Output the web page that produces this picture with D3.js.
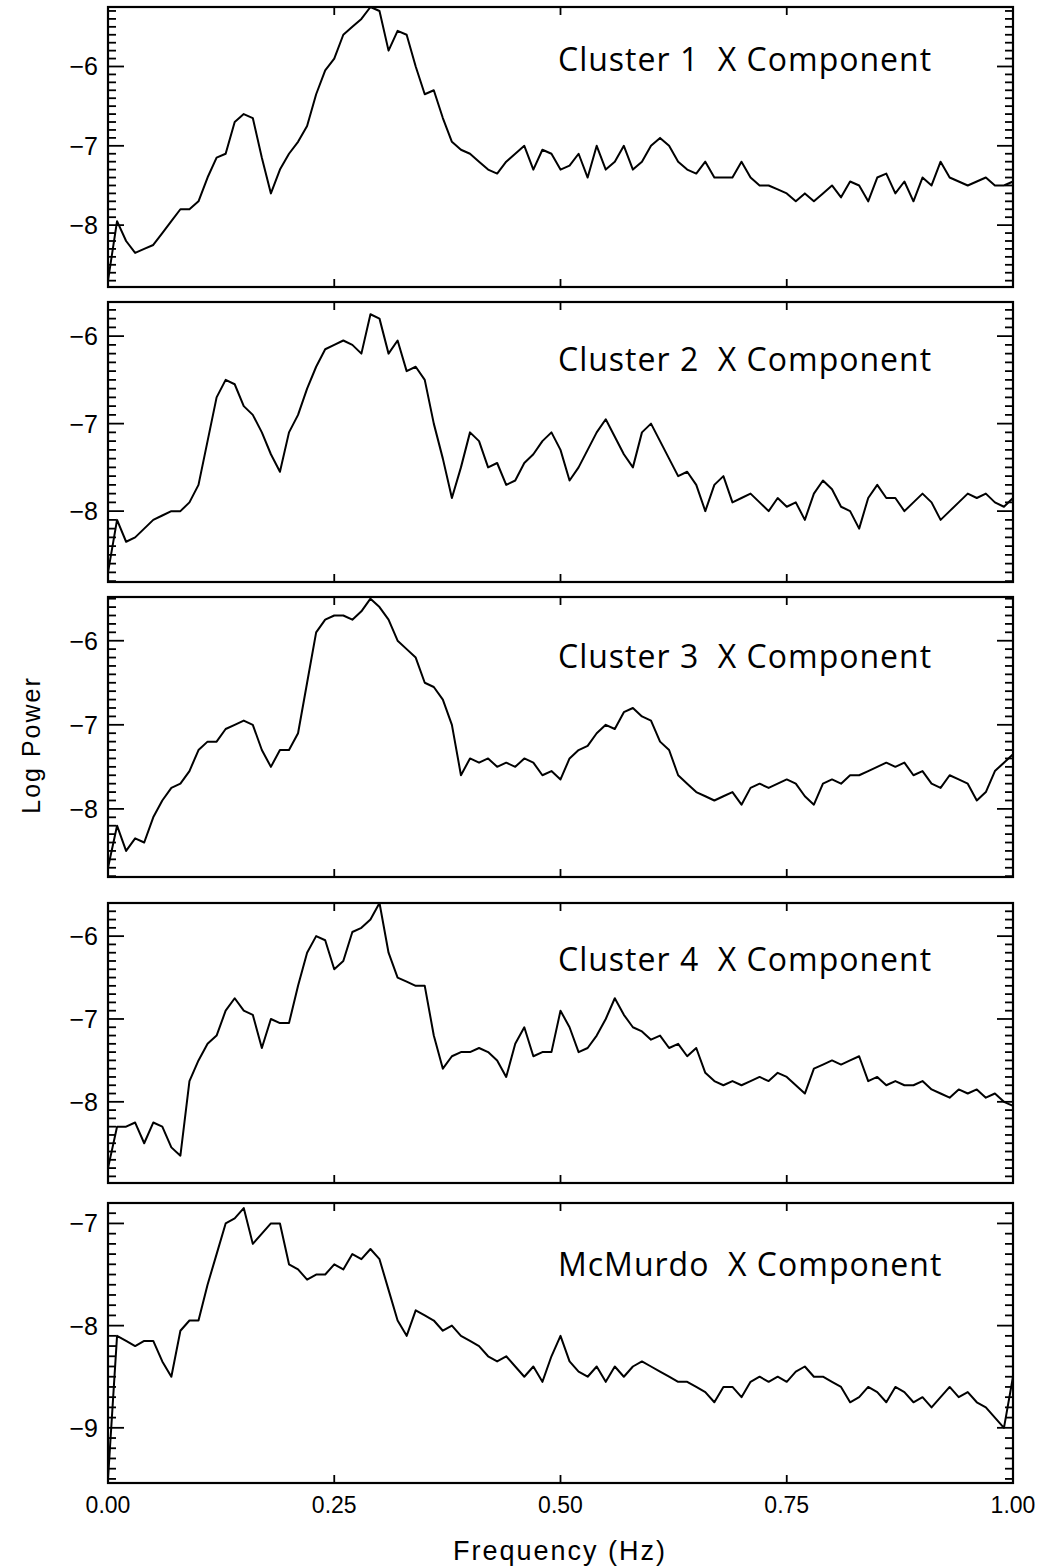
<!DOCTYPE html>
<html>
<head>
<meta charset="utf-8">
<script src="https://cdn.jsdelivr.net/npm/d3@7"></script>
<style>
body { margin: 0; background: #fff; }
text { white-space: pre; }
</style>
</head>
<body>
<svg id="chart" width="1042" height="1568"></svg>
<script>
// frequency grid (Hz), shared by all panels
var freq = d3.range(0, 101).map(function (i) { return i / 100; });

var titles = ["Cluster 1  X Component", "Cluster 2  X Component", "Cluster 3  X Component",
    "Cluster 4  X Component", "McMurdo  X Component"];

var xTicks = [0, 0.25, 0.5, 0.75, 1];
var xTickLabels = ["0.00", "0.25", "0.50", "0.75", "1.00"];

var cluster1 = [-8.7, -7.95, -8.2, -8.35, -8.3, -8.25, -8.1, -7.95, -7.8, -7.8,
    -7.7, -7.4, -7.15, -7.1, -6.7, -6.6, -6.65, -7.15, -7.6, -7.3,
    -7.1, -6.95, -6.75, -6.35, -6.05, -5.9, -5.6, -5.5, -5.4, -5.25,
    -5.3, -5.8, -5.55, -5.6, -6.0, -6.35, -6.3, -6.65, -6.95, -7.05,
    -7.1, -7.2, -7.3, -7.35, -7.2, -7.1, -7.0, -7.3, -7.05, -7.1,
    -7.3, -7.25, -7.1, -7.4, -7.0, -7.3, -7.2, -7.0, -7.3, -7.2,
    -7.0, -6.9, -7.0, -7.2, -7.3, -7.35, -7.2, -7.4, -7.4, -7.4,
    -7.2, -7.4, -7.5, -7.5, -7.55, -7.6, -7.7, -7.6, -7.7, -7.6,
    -7.5, -7.65, -7.45, -7.5, -7.7, -7.4, -7.35, -7.6, -7.45, -7.7,
    -7.4, -7.5, -7.2, -7.4, -7.45, -7.5, -7.45, -7.4, -7.5, -7.5, -7.45];

var cluster2 = [-8.7, -8.1, -8.35, -8.3, -8.2, -8.1, -8.05, -8.0, -8.0, -7.9,
    -7.7, -7.2, -6.7, -6.5, -6.55, -6.8, -6.9, -7.1, -7.35, -7.55,
    -7.1, -6.9, -6.6, -6.35, -6.15, -6.1, -6.05, -6.1, -6.2, -5.75,
    -5.8, -6.2, -6.05, -6.4, -6.35, -6.5, -7.0, -7.4, -7.85, -7.5,
    -7.1, -7.2, -7.5, -7.45, -7.7, -7.65, -7.45, -7.35, -7.2, -7.1,
    -7.3, -7.65, -7.5, -7.3, -7.1, -6.95, -7.15, -7.35, -7.5, -7.1,
    -7.0, -7.2, -7.4, -7.6, -7.55, -7.7, -8.0, -7.7, -7.6, -7.9,
    -7.85, -7.8, -7.9, -8.0, -7.85, -7.95, -7.9, -8.1, -7.8, -7.65,
    -7.75, -7.95, -8.0, -8.2, -7.85, -7.7, -7.85, -7.85, -8.0, -7.9,
    -7.8, -7.9, -8.1, -8.0, -7.9, -7.8, -7.85, -7.8, -7.9, -7.95, -7.85];

var cluster3 = [-8.7, -8.2, -8.5, -8.35, -8.4, -8.1, -7.9, -7.75, -7.7, -7.55,
    -7.3, -7.2, -7.2, -7.05, -7.0, -6.95, -7.0, -7.3, -7.5, -7.3,
    -7.3, -7.1, -6.5, -5.9, -5.75, -5.7, -5.7, -5.75, -5.65, -5.5,
    -5.6, -5.75, -6.0, -6.1, -6.2, -6.5, -6.55, -6.7, -7.0, -7.6,
    -7.4, -7.45, -7.4, -7.5, -7.45, -7.5, -7.4, -7.45, -7.6, -7.55,
    -7.65, -7.4, -7.3, -7.25, -7.1, -7.0, -7.05, -6.85, -6.8, -6.9,
    -6.95, -7.2, -7.3, -7.6, -7.7, -7.8, -7.85, -7.9, -7.85, -7.8,
    -7.95, -7.75, -7.7, -7.75, -7.7, -7.65, -7.7, -7.85, -7.95, -7.7,
    -7.65, -7.7, -7.6, -7.6, -7.55, -7.5, -7.45, -7.5, -7.45, -7.6,
    -7.55, -7.7, -7.75, -7.6, -7.65, -7.7, -7.9, -7.8, -7.55, -7.45, -7.35];

var cluster4 = [-8.8, -8.3, -8.3, -8.25, -8.5, -8.25, -8.3, -8.55, -8.65, -7.75,
    -7.5, -7.3, -7.2, -6.9, -6.75, -6.9, -6.95, -7.35, -7.0, -7.05,
    -7.05, -6.6, -6.2, -6.0, -6.05, -6.4, -6.3, -5.95, -5.9, -5.8,
    -5.6, -6.2, -6.5, -6.55, -6.6, -6.6, -7.2, -7.6, -7.45, -7.4,
    -7.4, -7.35, -7.4, -7.5, -7.7, -7.3, -7.1, -7.45, -7.4, -7.4,
    -6.9, -7.1, -7.4, -7.35, -7.2, -7.0, -6.75, -6.95, -7.1, -7.15,
    -7.25, -7.2, -7.35, -7.3, -7.45, -7.35, -7.65, -7.75, -7.8, -7.75,
    -7.8, -7.75, -7.7, -7.75, -7.65, -7.7, -7.8, -7.9, -7.6, -7.55,
    -7.5, -7.55, -7.5, -7.45, -7.75, -7.7, -7.8, -7.75, -7.8, -7.8,
    -7.75, -7.85, -7.9, -7.95, -7.85, -7.9, -7.85, -7.95, -7.9, -8.0, -8.05];

var mcmurdo = [-9.5, -8.1, -8.15, -8.2, -8.15, -8.15, -8.35, -8.5, -8.05, -7.95,
    -7.95, -7.6, -7.3, -7.0, -6.95, -6.85, -7.2, -7.1, -7.0, -7.0,
    -7.4, -7.45, -7.55, -7.5, -7.5, -7.4, -7.45, -7.3, -7.35, -7.25,
    -7.35, -7.65, -7.95, -8.1, -7.85, -7.9, -7.95, -8.05, -8.0, -8.1,
    -8.15, -8.2, -8.3, -8.35, -8.3, -8.4, -8.5, -8.4, -8.55, -8.3,
    -8.1, -8.35, -8.45, -8.5, -8.4, -8.55, -8.4, -8.5, -8.4, -8.35,
    -8.4, -8.45, -8.5, -8.55, -8.55, -8.6, -8.65, -8.75, -8.6, -8.6,
    -8.7, -8.55, -8.5, -8.55, -8.5, -8.55, -8.45, -8.4, -8.5, -8.5,
    -8.55, -8.6, -8.75, -8.7, -8.6, -8.65, -8.75, -8.6, -8.65, -8.75,
    -8.7, -8.8, -8.7, -8.6, -8.7, -8.65, -8.75, -8.8, -8.9, -9.0, -8.5];

var series = [cluster1, cluster2, cluster3, cluster4, mcmurdo];

// panel geometry
var panels = [
    { top: 7,    domain: [-8.78, -5.25], labels: [-8, -7, -6], titleDy: 64 },
    { top: 302,  domain: [-8.81, -5.61], labels: [-8, -7, -6], titleDy: 69 },
    { top: 597,  domain: [-8.81, -5.48], labels: [-8, -7, -6], titleDy: 71 },
    { top: 903,  domain: [-8.98, -5.6],  labels: [-8, -7, -6], titleDy: 68 },
    { top: 1203, domain: [-9.54, -6.8],  labels: [-9, -8, -7], titleDy: 73 }
];
var left = 108, right = 1013, ph = 280;

var svg = d3.select("#chart");

var x = d3.scaleLinear().domain([0, 1]).range([left, right]);

panels.forEach(function (p, i) {
    var y = d3.scaleLinear().domain(p.domain).range([p.top + ph, p.top]);
    var g = svg.append("g");

    var minor = d3.range(Math.ceil(p.domain[0] * 10), Math.floor(p.domain[1] * 10) + 1)
        .map(function (v) { return v / 10; });

    g.selectAll(".ytl").data(minor).enter().append("line")
        .attr("x1", left).attr("x2", function (d) {
            return left + (Math.abs(d - Math.round(d)) < 1e-6 ? 16 : 8);
        })
        .attr("y1", function (d) { return y(d); }).attr("y2", function (d) { return y(d); })
        .attr("stroke", "#000").attr("stroke-width", 1.8);

    g.selectAll(".ytr").data(minor).enter().append("line")
        .attr("x1", right).attr("x2", function (d) {
            return right - (Math.abs(d - Math.round(d)) < 1e-6 ? 16 : 8);
        })
        .attr("y1", function (d) { return y(d); }).attr("y2", function (d) { return y(d); })
        .attr("stroke", "#000").attr("stroke-width", 1.8);

    g.selectAll(".yl").data(p.labels).enter().append("text")
        .attr("x", left - 10).attr("y", function (d) { return y(d) + 9; })
        .attr("text-anchor", "end")
        .attr("font-family", "Liberation Sans, Arial, sans-serif")
        .attr("font-size", "25px")
        .text(function (d) { return "\u2212" + Math.abs(d); });

    g.selectAll(".xt").data(xTicks.slice(1, 4)).enter().append("line")
        .attr("x1", function (d) { return x(d); }).attr("x2", function (d) { return x(d); })
        .attr("y1", p.top + ph).attr("y2", p.top + ph - 8)
        .attr("stroke", "#000").attr("stroke-width", 1.8);
    g.selectAll(".xtt").data(xTicks.slice(1, 4)).enter().append("line")
        .attr("x1", function (d) { return x(d); }).attr("x2", function (d) { return x(d); })
        .attr("y1", p.top).attr("y2", p.top + 8)
        .attr("stroke", "#000").attr("stroke-width", 1.8);

    var line = d3.line()
        .x(function (d, j) { return x(freq[j]); })
        .y(function (d) { return y(d); });

    g.append("path")
        .datum(series[i])
        .attr("d", line)
        .attr("fill", "none")
        .attr("stroke", "#000")
        .attr("stroke-width", 2)
        .attr("stroke-linejoin", "round");

    g.append("rect")
        .attr("x", left).attr("y", p.top)
        .attr("width", right - left).attr("height", ph)
        .attr("fill", "none").attr("stroke", "#000").attr("stroke-width", 2.2);

    g.append("text")
        .attr("x", 558).attr("y", p.top + p.titleDy)
        .attr("font-family", "Open Sans, sans-serif")
        .attr("font-size", "32px")
        .attr("letter-spacing", "1px")
        .text(titles[i]);
});

// x tick labels under last panel
svg.selectAll(".xl").data(xTicks).enter().append("text")
    .attr("x", function (d) { return x(d); })
    .attr("y", 1513)
    .attr("text-anchor", "middle")
    .attr("font-family", "Liberation Sans, Arial, sans-serif")
    .attr("font-size", "23px")
    .text(function (d, i) { return xTickLabels[i]; });

svg.append("text")
    .attr("x", 560).attr("y", 1560)
    .attr("text-anchor", "middle")
    .attr("font-family", "Liberation Sans, Arial, sans-serif")
    .attr("font-size", "27px")
    .attr("letter-spacing", "2px")
    .text("Frequency (Hz)");

svg.append("text")
    .attr("transform", "translate(40,745) rotate(-90)")
    .attr("text-anchor", "middle")
    .attr("font-family", "Liberation Sans, Arial, sans-serif")
    .attr("font-size", "25px")
    .attr("letter-spacing", "2px")
    .text("Log Power");
</script>
</body>
</html>
